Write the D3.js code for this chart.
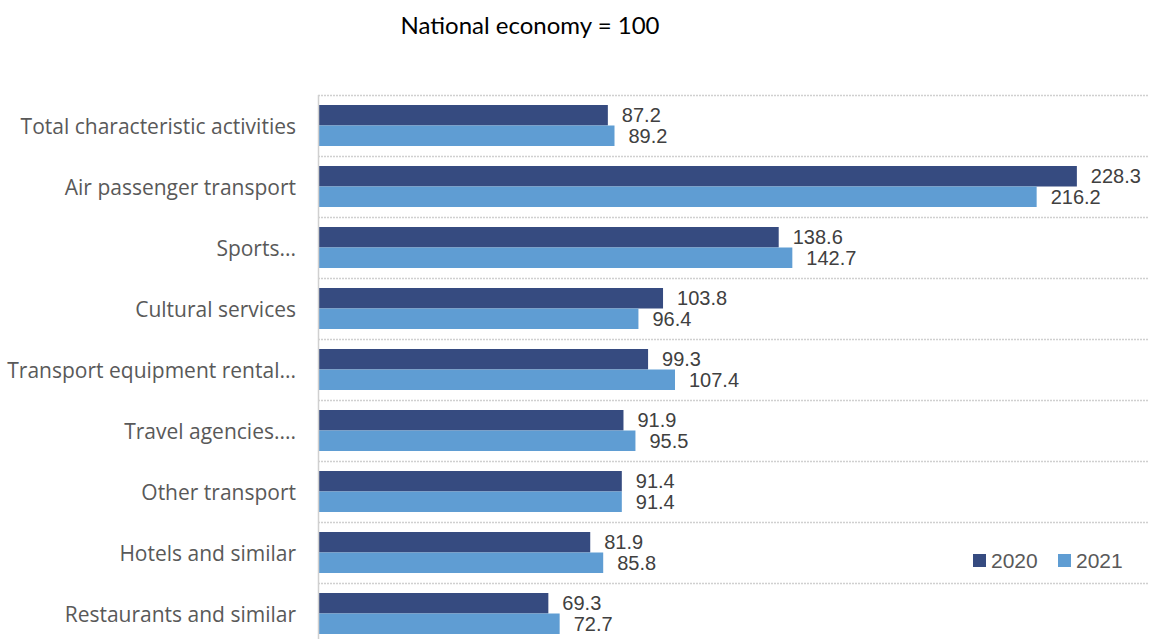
<!DOCTYPE html>
<html>
<head>
<meta charset="utf-8">
<script src="https://cdn.jsdelivr.net/npm/d3@7"></script>
<style>
  body { margin: 0; background: #fff; }
  .cat-label { font-family: "Open Sans", sans-serif; font-size: 21px; fill: #595959; }
  .val-label { font-family: "Liberation Sans", Arial, sans-serif; font-size: 20px; fill: #404040; }
  .title { font-family: Lato, "Open Sans", sans-serif; font-size: 24px; fill: #000; }
  .legend-text { font-family: "Liberation Sans", Arial, sans-serif; font-size: 21px; fill: #595959; }
</style>
</head>
<body>
<svg width="1154" height="639"></svg>
<script>
const categories = [
  'Total characteristic activities',
  'Air passenger transport',
  'Sports...',
  'Cultural services',
  'Transport equipment rental...',
  'Travel agencies....',
  'Other transport',
  'Hotels and similar',
  'Restaurants and similar'
];
const series = ['2020', '2021'];
const values2020 = [87.2, 228.3, 138.6, 103.8, 99.3, 91.9, 91.4, 81.9, 69.3];
const values2021 = [89.2, 216.2, 142.7, 96.4, 107.4, 95.5, 91.4, 85.8, 72.7];
const colors = ['#364b80', '#5f9dd3'];

const svg = d3.select('svg');
const width = +svg.attr('width');

const data = categories.map((c, i) => ({
  category: c,
  values: [values2020[i], values2021[i]]
}));

const plotLeft = 318;
const plotTop = 95;
const bandStep = 61;

const xScale = d3.scaleLinear()
  .domain([0, 250])
  .range([plotLeft, 1149]);

const yScale = d3.scaleBand()
  .domain(categories)
  .range([plotTop, plotTop + bandStep * categories.length]);

const barScale = d3.scaleBand()
  .domain(series)
  .range([10, yScale.bandwidth() - 10]);

// title
svg.append('text')
  .attr('class', 'title')
  .attr('x', 530)
  .attr('y', 34)
  .attr('text-anchor', 'middle')
  .text('National economy = 100');

// horizontal dotted grid at category boundaries
const gridG = svg.append('g');
gridG.selectAll('line').data(categories)
  .enter().append('line')
    .attr('x1', xScale(0))
    .attr('x2', xScale.range()[1])
    .attr('y1', d => yScale(d) + 0.5)
    .attr('y2', d => yScale(d) + 0.5)
    .attr('stroke', '#d0d0d0')
    .attr('stroke-width', 1.5)
    .attr('stroke-dasharray', '2,1');

// bars
const groups = svg.selectAll('.cat').data(data)
  .enter().append('g')
    .attr('class', 'cat')
    .attr('transform', d => `translate(0,${yScale(d.category)})`);

groups.selectAll('rect').data(d => d.values.map((v, i) => ({ s: series[i], v, i })))
  .enter().append('rect')
    .attr('x', xScale(0))
    .attr('y', d => barScale(d.s))
    .attr('width', d => xScale(d.v) - xScale(0))
    .attr('height', barScale.bandwidth())
    .attr('fill', d => colors[d.i]);

groups.selectAll('.val-label').data(d => d.values.map((v, i) => ({ s: series[i], v, i })))
  .enter().append('text')
    .attr('class', 'val-label')
    .attr('x', d => xScale(d.v) + 14)
    .attr('y', d => barScale(d.s) + barScale.bandwidth() / 2)
    .attr('dy', '0.36em')
    .text(d => d.v.toFixed(1));

// category axis
const yAxis = d3.axisLeft(yScale).tickSize(0).tickPadding(22);
const yAxisG = svg.append('g')
  .attr('transform', `translate(${plotLeft},0)`)
  .call(yAxis);
yAxisG.select('.domain').remove();
yAxisG.selectAll('text')
  .attr('class', 'cat-label')
  .attr('dy', '0.4em')
  .attr('font-family', null)
  .attr('font-size', null)
  .attr('fill', null);

svg.append('line')
  .attr('x1', plotLeft + 0.5)
  .attr('x2', plotLeft + 0.5)
  .attr('y1', plotTop)
  .attr('y2', yScale.range()[1])
  .attr('stroke', '#d0d0d0')
  .attr('stroke-width', 1.5);

// legend
const legend = svg.append('g')
  .attr('transform', 'translate(973,560)');
const legendItems = legend.selectAll('g').data(series)
  .enter().append('g')
    .attr('transform', (d, i) => `translate(${i * 85},0)`);
legendItems.append('rect')
  .attr('x', 0)
  .attr('y', -6)
  .attr('width', 13)
  .attr('height', 13)
  .attr('fill', (d, i) => colors[i]);
legendItems.append('text')
  .attr('class', 'legend-text')
  .attr('x', 18)
  .attr('y', 0)
  .attr('dy', '0.36em')
  .text(d => d);
</script>
</body>
</html>
